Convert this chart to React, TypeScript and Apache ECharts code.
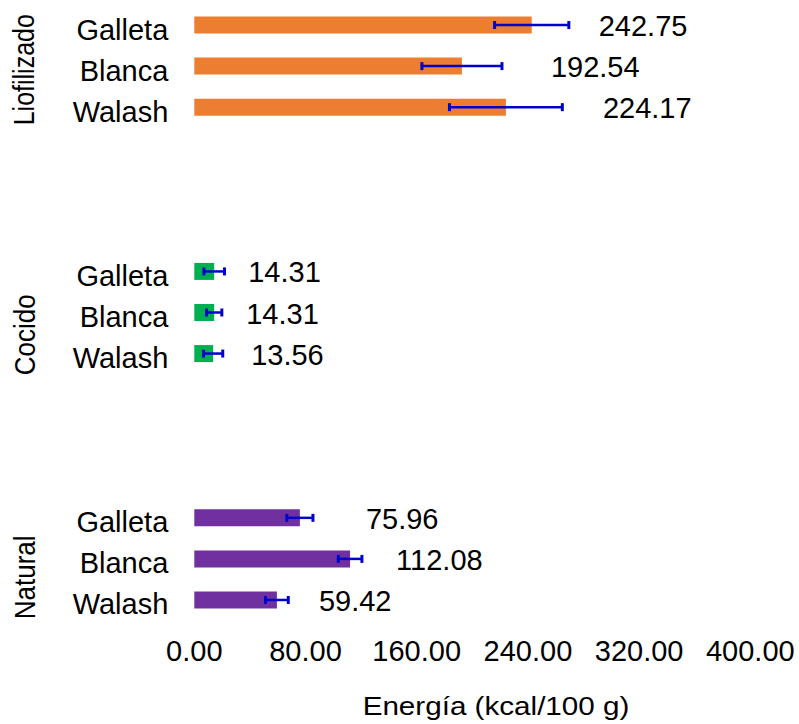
import React, { useEffect, useRef } from 'react';
import * as echarts from 'echarts';

// ---- data ----
const groups = ['Liofilizado', 'Cocido', 'Natural'];
const varieties = ['Galleta', 'Blanca', 'Walash'];
const liofilizadoValues = [242.75, 192.54, 224.17];
const cocidoValues = [14.31, 14.31, 13.56];
const naturalValues = [75.96, 112.08, 59.42];
const liofilizadoErrors = [26.7, 28.8, 40.6];
const cocidoErrors = [7.4, 5.5, 6.9];
const naturalErrors = [9.4, 8.5, 8.2];
const xTicks = [0, 80, 160, 240, 320, 400];
const axisTitle = 'Energía (kcal/100 g)';

// ---- styling ----
const groupValues = [liofilizadoValues, cocidoValues, naturalValues];
const groupErrors = [liofilizadoErrors, cocidoErrors, naturalErrors];
const groupColors = ['#ED7D31', '#00B050', '#7030A0'];
const labelGaps = [
  [67, 89, 97],
  [34, 32, 38],
  [66, 46, 42],
];
const spacerSlots = 3;
const FONT = 'Arial, "Liberation Sans", Helvetica, sans-serif';
const ERR_COLOR = '#0000CD';

// build category slots
const categories: string[] = [];
const barData: any[] = [];
const errData: number[][] = [];
groups.forEach((g, gi) => {
  varieties.forEach((v, vi) => {
    const idx = categories.length;
    categories.push(`${g}|${v}`);
    const val = groupValues[gi][vi];
    const err = groupErrors[gi][vi];
    barData.push({
      value: val,
      itemStyle: { color: groupColors[gi] },
      label: { offset: [labelGaps[gi][vi], 1] },
    });
    errData.push([idx, val - err, val + err]);
  });
  if (gi < groups.length - 1) {
    for (let k = 0; k < spacerSlots; k++) {
      categories.push(`spacer${gi}-${k}`);
      barData.push('-');
    }
  }
});

export default function App() {
  const ref = useRef<HTMLDivElement>(null);
  useEffect(() => {
    if (!ref.current) return;
    const chart = echarts.init(ref.current, null, { renderer: 'svg' });
    chart.setOption({
      animation: false,
      backgroundColor: '#ffffff',
      grid: { left: 194.3, right: 48.7, top: 4.5, bottom: 103.5, containLabel: false },
      xAxis: {
        type: 'value',
        min: xTicks[0],
        max: xTicks[xTicks.length - 1],
        interval: xTicks[1] - xTicks[0],
        axisLine: { show: false },
        axisTick: { show: false },
        splitLine: { show: false },
        axisLabel: {
          formatter: (v: number) => v.toFixed(2),
          fontSize: 29,
          color: '#000',
          fontFamily: FONT,
          margin: 16,
        },
      },
      yAxis: {
        type: 'category',
        inverse: true,
        data: categories,
        axisLine: { show: false },
        axisTick: { show: false },
        splitLine: { show: false },
        axisLabel: {
          formatter: (v: string) => (v.indexOf('|') >= 0 ? `{l|${v.split('|')[1]}}` : ''),
          color: '#000',
          margin: 26,
          interval: 0,
          verticalAlign: 'middle',
          rich: {
            l: {
              fontSize: 29,
              color: '#000',
              fontFamily: FONT,
              padding: [9, 0, 0, 0],
            },
          },
        },
      },
      series: [
        {
          type: 'bar',
          data: barData,
          barWidth: 17,
          label: {
            show: true,
            position: 'right',
            distance: 0,
            formatter: (p: any) => Number(p.value).toFixed(2),
            fontSize: 29,
            color: '#000',
            fontFamily: FONT,
          },
          z: 2,
        },
        {
          type: 'custom',
          data: errData,
          encode: { x: [1, 2], y: 0 },
          z: 3,
          renderItem: (params: any, api: any) => {
            const yi = api.value(0);
            const lo = api.coord([api.value(1), yi]);
            const hi = api.coord([api.value(2), yi]);
            const h = 4;
            const style = { stroke: ERR_COLOR, lineWidth: 2.5 };
            return {
              type: 'group',
              children: [
                { type: 'line', shape: { x1: lo[0], y1: lo[1], x2: hi[0], y2: hi[1] }, style },
                { type: 'line', shape: { x1: lo[0], y1: lo[1] - h, x2: lo[0], y2: lo[1] + h }, style: { stroke: ERR_COLOR, lineWidth: 3 } },
                { type: 'line', shape: { x1: hi[0], y1: hi[1] - h, x2: hi[0], y2: hi[1] + h }, style: { stroke: ERR_COLOR, lineWidth: 3 } },
              ],
            };
          },
        },
      ],
      graphic: [
        {
          type: 'text',
          x: 24.5,
          y: 69.7,
          rotation: Math.PI / 2,
          scaleY: 1.15,
          style: { text: groups[0], font: `25px ${FONT}`, fill: '#000', align: 'center', verticalAlign: 'middle' },
        },
        {
          type: 'text',
          x: 24.5,
          y: 334.7,
          rotation: Math.PI / 2,
          scaleY: 1.15,
          style: { text: groups[1], font: `26px ${FONT}`, fill: '#000', align: 'center', verticalAlign: 'middle' },
        },
        {
          type: 'text',
          x: 24.5,
          y: 577.3,
          rotation: Math.PI / 2,
          scaleY: 1.15,
          style: { text: groups[2], font: `26px ${FONT}`, fill: '#000', align: 'center', verticalAlign: 'middle' },
        },
        {
          type: 'text',
          x: 496,
          y: 706,
          scaleX: 1.14,
          style: { text: axisTitle, font: `26px ${FONT}`, fill: '#000', align: 'center', verticalAlign: 'middle' },
        },
      ],
    });
    return () => chart.dispose();
  }, []);
  return (
    <div
      ref={ref}
      style={{ position: 'fixed', left: 0, top: 0, width: 799, height: 724, background: '#fff' }}
    />
  );
}
